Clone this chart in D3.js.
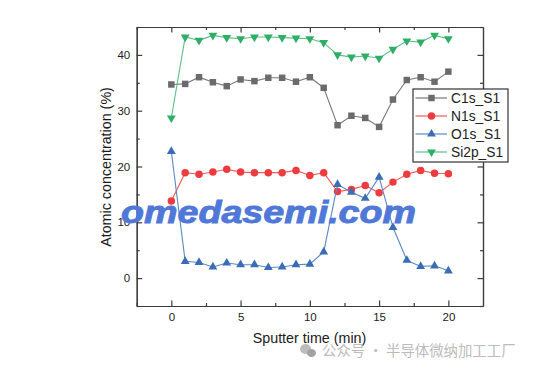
<!DOCTYPE html>
<html>
<head>
<meta charset="utf-8">
<script src="https://cdn.jsdelivr.net/npm/d3@7"></script>
<style>
  html, body { margin: 0; padding: 0; background: #fff; }
  svg { display: block; }
  text { font-family: "Liberation Sans", Arial, sans-serif; }
</style>
</head>
<body>
<svg id="chart" width="535" height="372"></svg>
<script>
const times = d3.range(0, 21);
const c1s = [34.7, 34.8, 36.0, 35.1, 34.4, 35.6, 35.3, 35.9, 35.9, 35.2, 36.0, 34.1, 27.4, 29.1, 28.7, 27.1, 32.0, 35.5, 36.0, 35.2, 37.0];
const n1s = [13.8, 18.9, 18.6, 19.0, 19.5, 19.0, 18.9, 18.9, 18.9, 19.3, 18.4, 18.9, 15.5, 15.9, 16.6, 15.3, 17.2, 18.6, 19.3, 18.8, 18.7];
const o1s = [22.7, 3.0, 2.8, 2.0, 2.7, 2.4, 2.4, 1.9, 2.0, 2.4, 2.5, 4.7, 16.8, 15.4, 14.3, 18.1, 9.1, 3.2, 2.1, 2.2, 1.3];
const si2p = [28.7, 43.2, 42.6, 43.5, 43.1, 42.9, 43.2, 43.2, 43.1, 43.0, 42.9, 42.2, 40.0, 39.6, 39.8, 39.4, 41.0, 42.5, 42.3, 43.5, 42.9];

const xTicks = [0, 5, 10, 15, 20];
const xMinor = [-2.5, 2.5, 7.5, 12.5, 17.5];
const yTicks = [0, 10, 20, 30, 40];
const yMinor = [-5, 5, 15, 25, 35, 45];

const svg = d3.select("#chart");
const plotLeft = 136.7, plotRight = 483, plotTop = 27, plotBottom = 306;

const x = d3.scaleLinear().domain([-2.5, 22.5]).range([plotLeft, plotRight]);
const y = d3.scaleLinear().domain([-5, 45]).range([plotBottom, plotTop]);

const triUp = d3.symbol().type(d3.symbolTriangle).size(34);
const series = [
    { name: "C1s_S1", values: c1s, color: "#6b6b6e", line: "#77777a", shape: d3.symbol().type(d3.symbolSquare).size(42)() },
    { name: "N1s_S1", values: n1s, color: "#ee3b3f", line: "#f05a5c", shape: d3.symbol().type(d3.symbolCircle).size(44)() },
    { name: "O1s_S1", values: o1s, color: "#3a6db5", line: "#5c88c6", shape: triUp() },
    { name: "Si2p_S1", values: si2p, color: "#2fae66", line: "#5fc08a", shape: triUp(), flip: true }
];

const line = d3.line().x((d, i) => x(times[i])).y(d => y(d));

// series
series.forEach(s => {
    const g = svg.append("g");
    g.append("path")
        .attr("d", line(s.values))
        .attr("fill", "none")
        .attr("stroke", s.line)
        .attr("stroke-width", 1.1);
    g.selectAll("path.mark")
        .data(s.values)
        .join("path")
        .attr("class", "mark")
        .attr("d", s.shape)
        .attr("fill", s.color)
        .attr("transform", (d, i) => `translate(${x(times[i])},${y(d)})` + (s.flip ? " rotate(180)" : ""));
});

// axes, all four sides with inward ticks
function drawAxis(axis, transform, labels) {
    const g = svg.append("g").attr("transform", transform).call(axis);
    g.selectAll("path, line").attr("stroke", "#3c3c3c").attr("stroke-width", 1.2);
    g.selectAll("text")
        .attr("fill", "#222")
        .style("font-size", "11.5px")
        .style("font-family", "'Liberation Sans', Arial, sans-serif");
    if (!labels) g.selectAll("text").remove();
    return g;
}

drawAxis(d3.axisBottom(x).tickValues(xTicks).tickSize(-5.5).tickPadding(6.5).tickSizeOuter(0), `translate(0,${plotBottom})`, true);
drawAxis(d3.axisBottom(x).tickValues(xMinor).tickSize(-3).tickSizeOuter(0), `translate(0,${plotBottom})`, false);
drawAxis(d3.axisTop(x).tickValues(xTicks).tickSize(-5.5).tickSizeOuter(0), `translate(0,${plotTop})`, false);
drawAxis(d3.axisTop(x).tickValues(xMinor).tickSize(-3).tickSizeOuter(0), `translate(0,${plotTop})`, false);
drawAxis(d3.axisLeft(y).tickValues(yTicks).tickSize(-5.5).tickPadding(6.5).tickSizeOuter(0), `translate(${plotLeft},0)`, true);
drawAxis(d3.axisLeft(y).tickValues(yMinor).tickSize(-3).tickSizeOuter(0), `translate(${plotLeft},0)`, false);
drawAxis(d3.axisRight(y).tickValues(yTicks).tickSize(-5.5).tickSizeOuter(0), `translate(${plotRight},0)`, false);
drawAxis(d3.axisRight(y).tickValues(yMinor).tickSize(-3).tickSizeOuter(0), `translate(${plotRight},0)`, false);

// axis titles
svg.append("text")
    .attr("x", 309.5)
    .attr("y", 343)
    .attr("text-anchor", "middle")
    .attr("font-size", 14.3)
    .attr("fill", "#1a1a1a")
    .text("Sputter time (min)");

svg.append("text")
    .attr("transform", "translate(111,167) rotate(-90)")
    .attr("text-anchor", "middle")
    .attr("font-size", 14.3)
    .attr("fill", "#1a1a1a")
    .text("Atomic concentration (%)");

// legend
const legend = svg.append("g").attr("transform", "translate(413,89)");
legend.append("rect")
    .attr("width", 95)
    .attr("height", 73)
    .attr("fill", "#fff")
    .attr("stroke", "#333")
    .attr("stroke-width", 1.2);

const rows = legend.selectAll("g.row")
    .data(series)
    .join("g")
    .attr("class", "row")
    .attr("transform", (d, i) => `translate(0,${9 + i * 18})`);
rows.append("line")
    .attr("x1", 2.5).attr("x2", 34)
    .attr("stroke", d => d.line)
    .attr("stroke-width", 1.2);
rows.append("path")
    .attr("d", d => d.shape)
    .attr("fill", d => d.color)
    .attr("transform", d => "translate(18.5,0)" + (d.flip ? " rotate(180)" : ""));
rows.append("text")
    .attr("x", 38)
    .attr("y", 5)
    .attr("font-size", 13.8)
    .attr("fill", "#222")
    .text(d => d.name);

// watermarks, the logo type is wider and heavier than any installed bold so stretch it
svg.append("text")
    .attr("x", 121)
    .attr("y", 222.5)
    .attr("font-size", 32)
    .attr("font-weight", "bold")
    .attr("font-style", "italic")
    .attr("fill", "#4f78d8")
    .attr("stroke", "#4f78d8")
    .attr("stroke-width", 0.9)
    .attr("textLength", 295)
    .attr("lengthAdjust", "spacingAndGlyphs")
    .text("omedasemi.com");

const wechat = svg.append("g");
wechat.append("ellipse").attr("cx", 305.5).attr("cy", 349).attr("rx", 5.5).attr("ry", 5).attr("fill", "#bdbdbd");
wechat.append("ellipse").attr("cx", 311.5).attr("cy", 353).attr("rx", 4.5).attr("ry", 4).attr("fill", "#a2a2a2");

svg.append("text")
    .attr("x", 322)
    .attr("y", 356)
    .attr("font-size", 14.4)
    .attr("fill", "#bcbcbc")
    .style("font-family", "'Noto Sans CJK SC', sans-serif")
    .text("公众号 · 半导体微纳加工工厂");
</script>
</body>
</html>
